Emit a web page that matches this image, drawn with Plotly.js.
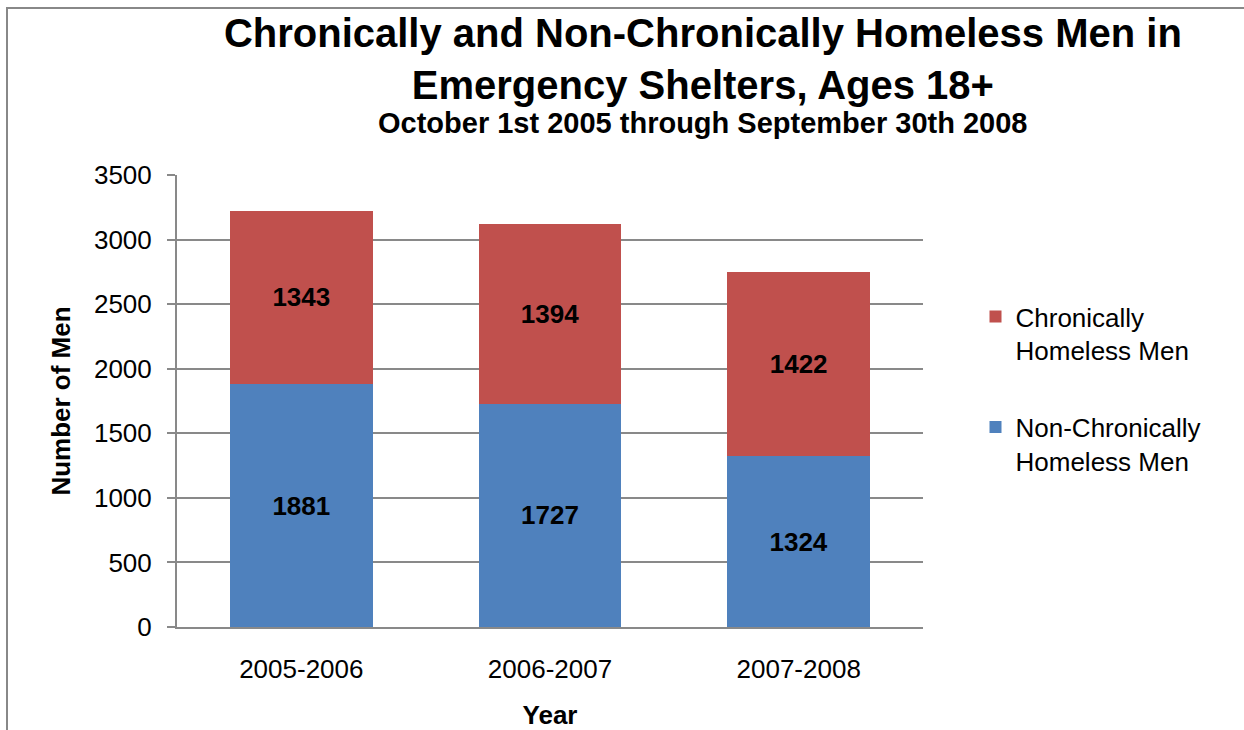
<!DOCTYPE html>
<html><head><meta charset="utf-8">
<script src="https://cdn.plot.ly/plotly-3.0.1.min.js"></script>
<style>html,body{margin:0;padding:0;background:#fff}#chart{width:1244px;height:730px}</style>
</head><body><div id="chart"></div>
<script>
const years = ["2005-2006", "2006-2007", "2007-2008"];
const nonChronic = [1881, 1727, 1324];
const chronic = [1343, 1394, 1422];
const yTicks = [0, 500, 1000, 1500, 2000, 2500, 3000, 3500];

const FONT = "Liberation Sans, Arial, sans-serif";
const labelFont = {family: FONT, size: 26, color: "#000"};
const barTextFont = {family: FONT, size: 26, color: "#000", weight: "bold"};

const traces = [
  {type: "bar", x: years, y: nonChronic, name: "Non-Chronically<br>Homeless Men",
   marker: {color: "#4F81BD"}, text: nonChronic.map(String), textposition: "inside",
   insidetextanchor: "middle", textfont: barTextFont, constraintext: "none",
   legendgroup: "b", legendrank: 2},
  {type: "bar", x: years, y: chronic, name: "Chronically<br>Homeless Men",
   marker: {color: "#C0504D"}, text: chronic.map(String), textposition: "inside",
   insidetextanchor: "middle", textfont: barTextFont, constraintext: "none",
   legendgroup: "a", legendrank: 1}
];

const L = 177, R = 923, T = 175, B = 627;
const W = R - L, H = B - T;

const layout = {
  width: 1244, height: 730,
  margin: {l: L, r: 1244 - R, t: T, b: 730 - B},
  paper_bgcolor: "#fff", plot_bgcolor: "#fff",
  barmode: "stack", bargap: 0.425,
  font: {family: FONT, size: 26, color: "#000"},
  title: {
    text: "<b>Chronically and Non-Chronically Homeless Men in<br>Emergency Shelters, Ages 18+</b>",
    font: {family: FONT, size: 40, color: "#000"},
    x: 0.565, xanchor: "center", xref: "container",
    y: 1 - 47 / 730, yanchor: "top", yref: "container"
  },
  annotations: [
    {text: "<b>October 1st 2005 through September 30th 2008</b>", showarrow: false,
     xref: "paper", yref: "paper", x: (703 - L) / W, xanchor: "center",
     y: (B - 123) / H, yanchor: "middle", font: {family: FONT, size: 29, color: "#000"}}
  ],
  xaxis: {
    title: {text: "<b>Year</b>", font: {family: FONT, size: 26}, standoff: 28},
    tickfont: labelFont, showline: true, linecolor: "#898989", linewidth: 2,
    ticks: "", ticklabelstandoff: 18, showgrid: false, zeroline: false, fixedrange: true
  },
  yaxis: {
    title: {text: "<b>Number of Men</b>", font: {family: FONT, size: 26}, standoff: 16},
    range: [0, 3500], tickvals: yTicks, ticktext: yTicks.map(String),
    tickfont: labelFont, ticks: "outside", ticklen: 8, tickcolor: "#898989", tickwidth: 2,
    ticklabelstandoff: 10,
    showline: true, linecolor: "#898989", linewidth: 2,
    showgrid: true, gridcolor: "#898989", gridwidth: 2, zeroline: false, fixedrange: true
  },
  legend: {
    x: (975.5 - L) / W, xanchor: "left", y: (B - 293) / H, yanchor: "top",
    traceorder: "grouped", tracegroupgap: 40, valign: "top",
    font: {family: FONT, size: 26, color: "#000"}, itemwidth: 30
  },
  shapes: [
    {type: "line", xref: "paper", yref: "paper", x0: (7 - L) / W, x1: (7 - L) / W,
     y0: (B - 740) / H, y1: (B - 7) / H, line: {color: "#888", width: 2}},
    {type: "line", xref: "paper", yref: "paper", x0: (7 - L) / W, x1: (1250 - L) / W,
     y0: (B - 8) / H, y1: (B - 8) / H, line: {color: "#888", width: 2}}
  ]
};

Plotly.newPlot("chart", traces, layout, {displayModeBar: false, staticPlot: true});
</script></body></html>
